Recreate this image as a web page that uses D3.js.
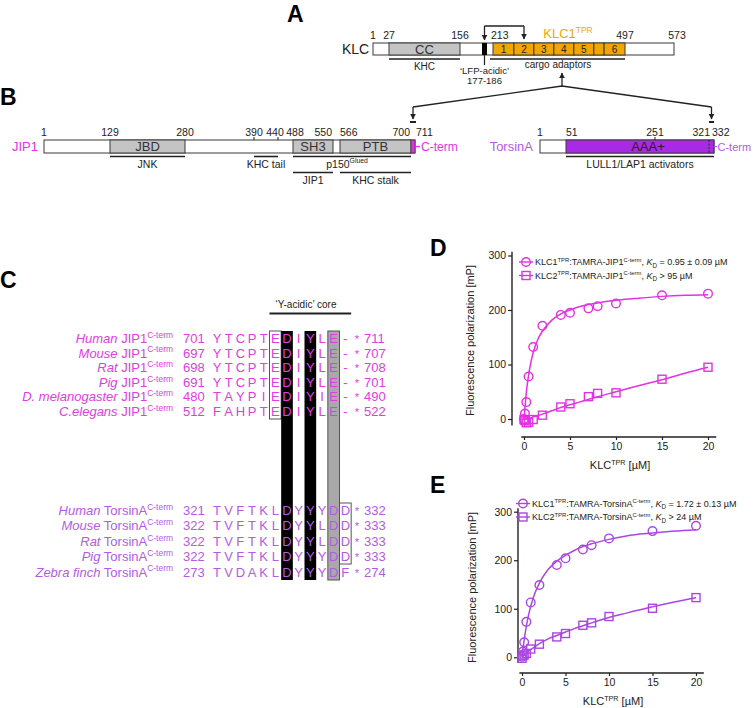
<!DOCTYPE html>
<html><head><meta charset="utf-8">
<script src="https://cdn.jsdelivr.net/npm/d3@7"></script>
<style>
body{margin:0;background:#fff}
svg{display:block}
text{font-family:"Liberation Sans",Arial,Helvetica,sans-serif}
</style>
</head><body>
<svg id="fig" width="754" height="708"></svg>
<script>
// ---------------- DATA ----------------
// Panel A: KLC
const klcTicks = [1, 27, 156, 213, 497, 573];
const klcCC = [27, 156];
const klcLFP = [177, 186];
const tprEdges = [213, 258, 301, 344, 387, 430, 452, 497];
const tprLabels = ["1", "2", "3", "4", "5", "", "6"];
// Panel B: JIP1 and TorsinA
const jip1Ticks = [1, 129, 280, 390, 440, 488, 550, 566, 700, 711];
const jip1DomainNames = ["JBD", "SH3", "PTB"];
const jip1DomainStart = [129, 488, 566];
const jip1DomainEnd = [280, 550, 700];
const jip1CTerm = [700, 711];
const jip1BindNames = ["JNK", "KHC tail", "p150", "JIP1", "KHC stalk"];
const jip1BindStart = [129, 390, 488, 488, 566];
const jip1BindEnd = [280, 440, 700, 550, 700];
const jip1BindRow = [0, 0, 0, 1, 1];
const torsinTicks = [1, 51, 251, 321, 332];
const torsinAAA = [51, 332];
const torsinCTerm = [321, 332];
// Panel C: alignment
const jip1Species = ["Human", "Mouse", "Rat", "Pig", "D. melanogaster", "C.elegans"];
const jip1Start = [701, 697, 698, 691, 480, 512];
const jip1End = [711, 707, 708, 701, 490, 522];
const jip1Seq = ["YTCPTEDIYLE-", "YTCPTEDIYLE-", "YTCPTEDIYLE-", "YTCPTEDIYLE-", "TAYPIEDIYIE-", "FAHPTEDIYLE-"];
const torsinSpecies = ["Human", "Mouse", "Rat", "Pig", "Zebra finch"];
const torsinStart = [321, 322, 322, 322, 273];
const torsinEnd = [332, 333, 333, 333, 274];
const torsinSeq = ["TVFTKLDYYYDD", "TVFTKLDYYLDD", "TVFTKLDYYLDD", "TVFTKLDYYYDD", "TVDAKLDYYYDF"];
const blackCols = [6, 8];
const grayCols = [10];
// Panels D/E: fluorescence polarization
const conc = [0, 0.1, 0.25, 0.5, 1, 2, 4, 5, 7, 8, 10, 15, 20];
const klc1JipFP = [0, 10, 31, 78, 132, 171, 191, 195, 203, 207, 212, 227, 230];
const klc2JipFP = [-1, -3, -7, -6, -1, 7, 22, 28, 41, 47, 48, 73, 95];
const klc1TorFP = [1, 12, 31, 73, 113, 149, 190, 204, 222, 231, 245, 260, 271];
const klc2TorFP = [-2, 3, 5, 8, 17, 27, 42, 49, 66, 71, 84, 101, 123];
const fitX = [0, 0.25, 0.5, 0.75, 1, 1.5, 2, 3, 4, 5, 6, 7, 8, 10, 12, 15, 17.5, 20];
const klc1JipFit = [-2, 48, 81, 104, 122, 146, 161, 181, 193, 200, 206, 210, 213, 218, 221, 225, 227, 228];
const klc2JipFit = [-1, 0, 1, 2, 4, 6, 9, 15, 21, 26, 31, 36, 41, 50, 59, 72, 84, 95];
const klc1TorFit = [0, 36, 64, 87, 105, 133, 153, 181, 198, 210, 220, 228, 234, 243, 250, 256, 260, 263];
const klc2TorFit = [0, 5, 9, 13, 16, 22, 28, 38, 45, 52, 59, 65, 71, 82, 91, 104, 114, 123];
const xTicks = [0, 5, 10, 15, 20];
const yTicks = [0, 100, 200, 300];

// ---------------- STYLE ----------------
const MAG = "#e431e4", MAG_T = "#e03ce0";
const PUR = "#aa46e2", PUR_T = "#b45ae6", AAA = "#a82ae6";
const ORANGE = "#f4a600", GRAY = "#c4c4c4", STROKE = "#3a3a3a";
const svg = d3.select("#fig");
const defs = svg.append("defs");
defs.append("marker").attr("id", "arr").attr("viewBox", "0 0 10 10").attr("refX", 9).attr("refY", 5)
  .attr("markerWidth", 6).attr("markerHeight", 6).attr("orient", "auto").attr("markerUnits", "userSpaceOnUse")
  .append("path").attr("d", "M0,0 L10,5 L0,10 z").attr("fill", "#222");

function rich(t, parts, fs) {
  let shift = 0;
  parts.forEach(([s, k]) => {
    const sp = t.append("tspan").text(s);
    let target = 0;
    if (k === "sup") { sp.attr("font-size", fs * 0.65); target = -fs * 0.4; }
    if (k === "sub") { sp.attr("font-size", fs * 0.7); target = fs * 0.25; }
    if (k === "i") sp.attr("font-style", "italic");
    sp.attr("dy", target - shift); shift = target;
  });
  return t;
}
function label(x, y, s, opts = {}) {
  const t = svg.append("text").attr("x", x).attr("y", y).text(s)
    .attr("font-size", opts.fs || 10).attr("fill", opts.fill || "#222")
    .attr("text-anchor", opts.anchor || "middle");
  if (opts.bold) t.attr("font-weight", "bold");
  return t;
}
function hline(x1, x2, y, w = 1.6, c = "#222") {
  svg.append("line").attr("x1", x1).attr("x2", x2).attr("y1", y).attr("y2", y).attr("stroke", c).attr("stroke-width", w);
}
function arrowLine(x1, y1, x2, y2) {
  svg.append("line").attr("x1", x1).attr("y1", y1).attr("x2", x2).attr("y2", y2)
    .attr("stroke", "#222").attr("stroke-width", 1.3).attr("marker-end", "url(#arr)");
}

// ---------------- PANEL A ----------------
label(287, 22, "A", { fs: 23, bold: true, anchor: "start", fill: "#000" });
const xK = d3.scaleLinear().domain([1, 27, 156, 177, 186, 213, 497, 573]).range([373, 389, 460, 482, 487, 493, 625, 674]);
const kTop = 43, kH = 12;
label(342, 54, "KLC", { fs: 14, anchor: "start" });
svg.append("rect").attr("x", xK(1)).attr("y", kTop).attr("width", xK(573) - xK(1)).attr("height", kH)
  .attr("fill", "#fff").attr("stroke", STROKE).attr("stroke-width", 1);
svg.append("rect").attr("x", xK(klcCC[0])).attr("y", kTop).attr("width", xK(klcCC[1]) - xK(klcCC[0])).attr("height", kH)
  .attr("fill", GRAY).attr("stroke", STROKE);
label((xK(klcCC[0]) + xK(klcCC[1])) / 2, kTop + 10.5, "CC", { fs: 13, fill: "#333" });
svg.append("rect").attr("x", xK(klcLFP[0])).attr("y", kTop).attr("width", xK(klcLFP[1]) - xK(klcLFP[0])).attr("height", kH).attr("fill", "#000");
tprLabels.forEach((l, i) => {
  const x0 = xK(tprEdges[i]), x1 = xK(tprEdges[i + 1]);
  svg.append("rect").attr("x", x0).attr("y", kTop).attr("width", x1 - x0).attr("height", kH)
    .attr("fill", ORANGE).attr("stroke", STROKE).attr("stroke-width", 1);
  label((x0 + x1) / 2, kTop + 9.5, l, { fs: 10, fill: "#222" });
});
const kAnchor = { 213: "start" };
klcTicks.forEach(v => {
  label(xK(v) + (v === 213 ? -2 : v === 573 ? 3 : 0), 39, v, { fs: 10.5, anchor: kAnchor[v] || "middle" });
});
rich(label(568, 38, "", { fs: 13, fill: ORANGE }), [["KLC1", "n"], ["TPR", "sup"]], 13);
hline(xK(181.5), 524, 26, 1.3);
arrowLine(xK(181.5), 26, xK(181.5), 40);
arrowLine(524, 26, 524, 39);
hline(xK(klcCC[0]), xK(klcCC[1]), 59, 1.6);
label((xK(klcCC[0]) + xK(klcCC[1])) / 2, 69.5, "KHC", { fs: 10 });
hline(xK(213) - 3, xK(497), 59, 1.6);
label(558, 67.5, "cargo adaptors", { fs: 10 });
svg.append("line").attr("x1", xK(181.5)).attr("x2", xK(181.5)).attr("y1", kTop + kH).attr("y2", 65).attr("stroke", "#222").attr("stroke-width", 1.2);
label(xK(181.5), 74, "\u2018LFP-acidic\u2019", { fs: 9.5 });
label(xK(181.5), 83.5, "177-186", { fs: 9.5 });
const xJ = d3.scaleLinear().domain([1, 129, 280, 390, 440, 488, 550, 566, 700, 711]).range([44, 110, 185, 254, 278, 293, 333, 340, 411, 415]);
const xT = d3.scaleLinear().domain([1, 51, 251, 321, 332]).range([540, 566, 655, 709, 714]);
arrowLine(562, 86, 562, 73);
const jMid = (xJ(700) + xJ(711)) / 2, tMid = (xT(321) + xT(332)) / 2;
svg.append("path").attr("d", `M${jMid},107 L562,86 L${tMid},107`).attr("fill", "none").attr("stroke", "#222").attr("stroke-width", 1.3);
arrowLine(jMid, 107, jMid, 119);
arrowLine(tMid, 107, tMid, 119);
hline(xJ(700) - 1, xJ(711) + 1, 122, 2);
hline(xT(321), xT(332), 122, 2);

// ---------------- PANEL B ----------------
label(0, 105, "B", { fs: 23, bold: true, anchor: "start", fill: "#000" });
const bTop = 140, bH = 13;
label(38, 151, "JIP1", { fs: 13, fill: MAG, anchor: "end" });
svg.append("rect").attr("x", xJ(1)).attr("y", bTop).attr("width", xJ(711) - xJ(1)).attr("height", bH).attr("fill", "#fff").attr("stroke", STROKE);
jip1DomainNames.forEach((n, i) => {
  const x0 = xJ(jip1DomainStart[i]), x1 = xJ(jip1DomainEnd[i]);
  svg.append("rect").attr("x", x0).attr("y", bTop).attr("width", x1 - x0).attr("height", bH).attr("fill", GRAY).attr("stroke", STROKE);
  label((x0 + x1) / 2, bTop + 11, n, { fs: 13, fill: "#333" });
});
svg.append("rect").attr("x", xJ(jip1CTerm[0])).attr("y", bTop).attr("width", xJ(jip1CTerm[1]) - xJ(jip1CTerm[0])).attr("height", bH).attr("fill", MAG).attr("stroke", STROKE).attr("stroke-width", 0.8);
hline(xJ(711), xJ(711) + 5, bTop + bH / 2, 1.3, MAG);
label(xJ(711) + 6, bTop + 10.5, "C-term", { fs: 12, fill: MAG, anchor: "start" });
const jAnchor = { 550: "end", 566: "start", 700: "end", 711: "start", 440: "middle", 488: "middle" };
const jNudge = { 550: -1, 566: 0, 700: -1, 711: 1, 440: -3, 488: 2 };
jip1Ticks.forEach(v => {
  label(xJ(v) + (jNudge[v] || 0), 136, v, { fs: 10.5, anchor: jAnchor[v] || "middle" });
});
[390, 440].forEach(v => svg.append("line").attr("x1", xJ(v)).attr("x2", xJ(v)).attr("y1", bTop - 3).attr("y2", bTop).attr("stroke", "#222"));
jip1BindNames.forEach((n, i) => {
  const x0 = xJ(jip1BindStart[i]), x1 = xJ(jip1BindEnd[i]);
  const ly = jip1BindRow[i] === 0 ? 156.5 : 172.5;
  hline(x0, x1, ly, 1.6);
  const t = label((x0 + x1) / 2 + (n === "p150" ? -5 : 0), ly + 11, "", { fs: 10.5 });
  if (n === "p150") rich(t, [["p150", "n"], ["Glued", "sup"]], 10.5); else t.text(n);
});
label(533, 151, "TorsinA", { fs: 13, fill: PUR_T, anchor: "end" });
svg.append("rect").attr("x", xT(1)).attr("y", bTop).attr("width", xT(332) - xT(1)).attr("height", bH).attr("fill", "#fff").attr("stroke", STROKE);
svg.append("rect").attr("x", xT(torsinAAA[0])).attr("y", bTop).attr("width", xT(torsinAAA[1]) - xT(torsinAAA[0])).attr("height", bH).attr("fill", AAA).attr("stroke", STROKE);
label(648, bTop + 11, "AAA+", { fs: 13, fill: "#222" });
svg.append("line").attr("x1", xT(torsinCTerm[0])).attr("x2", xT(torsinCTerm[0])).attr("y1", bTop).attr("y2", bTop + bH)
  .attr("stroke", "#333").attr("stroke-width", 1.2).attr("stroke-dasharray", "2,1.5");
hline(xT(332), xT(332) + 3, bTop + bH / 2, 1.3, PUR_T);
label(xT(332) + 3.5, bTop + 10.5, "C-term", { fs: 11, fill: PUR_T, anchor: "start" });
const tAnchor = { 51: "start", 321: "end", 332: "start" };
const tNudge = { 51: 0, 321: 1, 332: -2 };
torsinTicks.forEach(v => label(xT(v) + (tNudge[v] || 0), 136, v, { fs: 10.5, anchor: tAnchor[v] || "middle" }));
svg.append("line").attr("x1", xT(251)).attr("x2", xT(251)).attr("y1", bTop - 3).attr("y2", bTop).attr("stroke", "#222");
hline(xT(51), xT(332), 156.5, 1.6);
label(640, 167.5, "LULL1/LAP1 activators", { fs: 10.5 });

// ---------------- PANEL C ----------------
label(0, 288, "C", { fs: 23, bold: true, anchor: "start", fill: "#000" });
const colX = d3.scaleLinear().domain([0, 12]).range([217, 357]);
const cw = colX(1) - colX(0);
const jY = d3.scalePoint().domain(d3.range(jip1Species.length)).range([343, 416]);
const tY = d3.scalePoint().domain(d3.range(torsinSpecies.length)).range([515, 576.5]);
const seqFs = 13;
const boxTop = 331, blackBottom = 580;
svg.append("rect").attr("x", colX(5) - cw / 2).attr("y", boxTop).attr("width", cw).attr("height", 419 - boxTop).attr("fill", "#fff").attr("stroke", "#555").attr("stroke-width", 1);
blackCols.forEach(c => svg.append("rect").attr("x", colX(c) - cw / 2).attr("y", boxTop).attr("width", cw).attr("height", blackBottom - boxTop).attr("fill", "#000"));
grayCols.forEach(c => svg.append("rect").attr("x", colX(c) - cw / 2).attr("y", boxTop).attr("width", cw).attr("height", blackBottom - boxTop).attr("fill", "#a9a9a9").attr("stroke", "#555"));
svg.append("rect").attr("x", colX(11) - cw / 2).attr("y", 503).attr("width", cw).attr("height", 564 - 503).attr("fill", "none").attr("stroke", "#555").attr("stroke-width", 1);
label(306, 308, "\u2018Y-acidic\u2019 core", { fs: 10 });
hline(colX(5) - cw / 2, colX(11) + cw / 2, 313.5, 1.8);
function alignRows(species, prot, starts, ends, seqs, yS, col) {
  species.forEach((s, i) => {
    const y = yS(i);
    rich(label(173, y, "", { fs: 13, fill: col, anchor: "end" }), [[s, "i"], [" " + prot, "n"], ["C-term", "sup"]], 13);
    label(183, y, starts[i], { fs: 13, fill: col, anchor: "start" });
    seqs[i].split("").forEach((ch, j) => label(colX(j), y, ch, { fs: seqFs, fill: col }));
    label(colX(12), y, "*", { fs: 11, fill: col });
    label(364, y, ends[i], { fs: 13, fill: col, anchor: "start" });
  });
}
alignRows(jip1Species, "JIP1", jip1Start, jip1End, jip1Seq, jY, MAG_T);
alignRows(torsinSpecies, "TorsinA", torsinStart, torsinEnd, torsinSeq, tY, PUR_T);

// ---------------- PANELS D / E ----------------
function fpPanel(cfg) {
  const g = svg.append("g");
  const x = d3.scaleLinear().domain([0, 20]).range(cfg.xr);
  const y = d3.scaleLinear().domain([0, 300]).range(cfg.yr);
  label(cfg.letterX, cfg.letterY, cfg.letter, { fs: 23, bold: true, anchor: "start", fill: "#000" });
  const ax = g.append("g").attr("transform", `translate(0,${cfg.xAxisY})`)
    .call(d3.axisBottom(x).tickValues(xTicks).tickSize(3).tickPadding(3).tickSizeOuter(0));
  ax.select(".domain").remove();
  ax.append("line").attr("x1", x(-0.3)).attr("x2", x(20.9)).attr("stroke", "#222").attr("stroke-width", 1.4);
  const ay = g.append("g").attr("transform", `translate(${cfg.yAxisX},0)`)
    .call(d3.axisLeft(y).tickValues(yTicks).tickSize(4).tickPadding(2).tickSizeOuter(0));
  ay.select(".domain").remove();
  ay.append("line").attr("y1", y(-12)).attr("y2", y(307)).attr("stroke", "#222").attr("stroke-width", 1.4);
  g.selectAll(".tick text").attr("font-size", 10.5).attr("fill", "#222").attr("font-family", "Liberation Sans, Arial, sans-serif");
  g.selectAll(".tick line").attr("stroke", "#222").attr("stroke-width", 1.2);
  const yl = label(0, 0, "Fluorescence polarization [mP]", { fs: 11 });
  yl.attr("transform", `translate(${cfg.yLabelX},${(y(-12) + y(300)) / 2}) rotate(-90)`);
  rich(label((x(0) + x(20)) / 2 + 4, cfg.xLabelY, "", { fs: 11 }), [["KLC", "n"], ["TPR", "sup"], [" [\u00b5M]", "n"]], 11);
  const line = d3.line().x((d, i) => x(fitX[i])).y(d => y(d)).curve(d3.curveMonotoneX);
  [cfg.fit1, cfg.fit2].forEach(f => g.append("path").attr("d", line(f)).attr("fill", "none").attr("stroke", cfg.col).attr("stroke-width", 1.5));
  g.selectAll(null).data(cfg.d1).enter().append("circle")
    .attr("cx", (d, i) => x(conc[i])).attr("cy", d => y(d)).attr("r", 4.3)
    .attr("fill", "none").attr("stroke", cfg.col).attr("stroke-width", 1.4);
  g.selectAll(null).data(cfg.d2).enter().append("rect")
    .attr("x", (d, i) => x(conc[i]) - 4).attr("y", d => y(d) - 4).attr("width", 8).attr("height", 8)
    .attr("fill", "none").attr("stroke", cfg.col).attr("stroke-width", 1.4);
  cfg.legend.forEach((parts, k) => {
    const ly = cfg.legY + k * 13.5, lx = cfg.legX;
    g.append("line").attr("x1", lx - 7).attr("x2", lx + 7).attr("y1", ly).attr("y2", ly).attr("stroke", cfg.col).attr("stroke-width", 1.4);
    if (k === 0) g.append("circle").attr("cx", lx).attr("cy", ly).attr("r", 4.3).attr("fill", "none").attr("stroke", cfg.col).attr("stroke-width", 1.4);
    else g.append("rect").attr("x", lx - 4).attr("y", ly - 4).attr("width", 8).attr("height", 8).attr("fill", "none").attr("stroke", cfg.col).attr("stroke-width", 1.4);
    rich(label(lx + 9, ly + 3.3, "", { fs: 9, anchor: "start" }), parts, 9);
  });
}
fpPanel({
  letter: "D", letterX: 430, letterY: 256, xr: [524, 708], yr: [419, 255.5], xAxisY: 437, yAxisX: 512,
  yLabelX: 474, xLabelY: 469, col: MAG, d1: klc1JipFP, d2: klc2JipFP, fit1: klc1JipFit, fit2: klc2JipFit,
  legX: 526, legY: 262,
  legend: [
    [["KLC1", "n"], ["TPR", "sup"], [":TAMRA-JIP1", "n"], ["C-term", "sup"], [", ", "n"], ["K", "i"], ["D", "sub"], [" = 0.95 \u00b1 0.09 \u00b5M", "n"]],
    [["KLC2", "n"], ["TPR", "sup"], [":TAMRA-JIP1", "n"], ["C-term", "sup"], [", ", "n"], ["K", "i"], ["D", "sub"], [" > 95 \u00b5M", "n"]]
  ]
});
fpPanel({
  letter: "E", letterX: 430, letterY: 493, xr: [522, 696], yr: [657.3, 511.7], xAxisY: 673, yAxisX: 518,
  yLabelX: 476, xLabelY: 705, col: PUR, d1: klc1TorFP, d2: klc2TorFP, fit1: klc1TorFit, fit2: klc2TorFit,
  legX: 523, legY: 503.5,
  legend: [
    [["KLC1", "n"], ["TPR", "sup"], [":TAMRA-TorsinA", "n"], ["C-term", "sup"], [", ", "n"], ["K", "i"], ["D", "sub"], [" = 1.72 \u00b1 0.13 \u00b5M", "n"]],
    [["KLC2", "n"], ["TPR", "sup"], [":TAMRA-TorsinA", "n"], ["C-term", "sup"], [", ", "n"], ["K", "i"], ["D", "sub"], [" > 24 \u00b5M", "n"]]
  ]
});
</script>
</body></html>
